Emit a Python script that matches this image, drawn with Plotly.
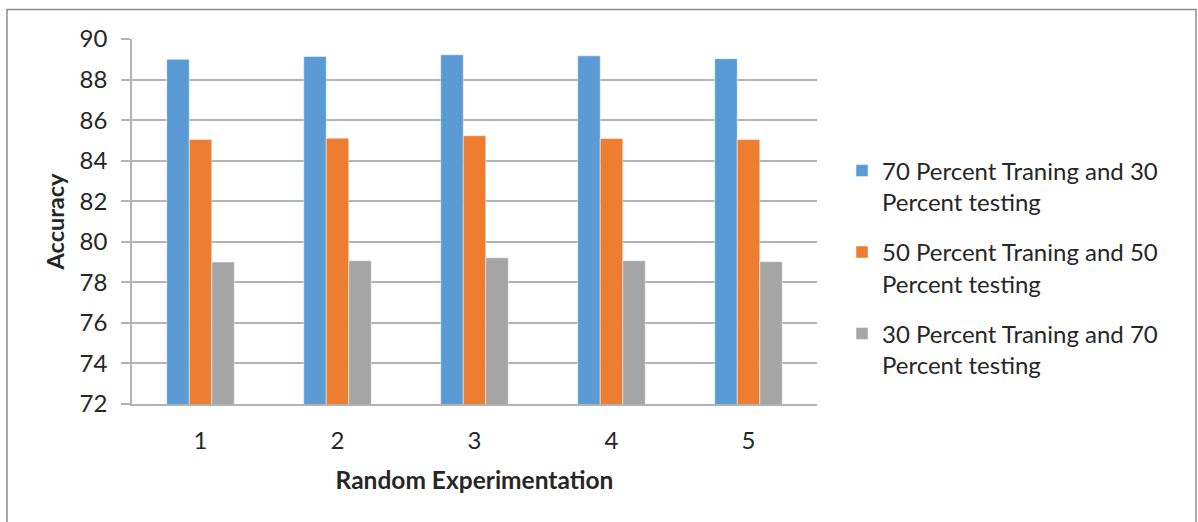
import plotly.graph_objects as go

# Accuracy per random experimentation run, for three train/test splits
runs = ["1", "2", "3", "4", "5"]
split_names = [
    "70 Percent Traning and 30<br>Percent testing",
    "50 Percent Traning and 50<br>Percent testing",
    "30 Percent Traning and 70<br>Percent testing",
]
acc_70_30 = [89.0, 89.14, 89.22, 89.17, 89.03]
acc_50_50 = [85.05, 85.11, 85.23, 85.09, 85.04]
acc_30_70 = [79.0, 79.07, 79.21, 79.07, 79.02]
y_ticks = [72, 74, 76, 78, 80, 82, 84, 86, 88, 90]

colors = ["#5B9BD5", "#ED7D31", "#A5A5A5"]
FONT = "Lato"
TEXT = "#262626"

W, H = 1198, 522
L, R, T, B = 132, 381, 39, 118
pw, ph = W - L - R, H - T - B

fig = go.Figure()
for i, (name, vals, c) in enumerate(zip(split_names, [acc_70_30, acc_50_50, acc_30_70], colors)):
    fig.add_trace(go.Bar(
        x=runs, y=vals, name=name, legendgroup=f"split{i}",
        marker=dict(color=c, line=dict(color="rgba(255,255,255,0.6)", width=0.8)),
    ))

# outer chart frame (bottom edge runs past the page)
def px_x(p):
    return (p - L) / pw

def px_y(p):
    return (H - B - p) / ph

fig.add_shape(type="rect", xref="paper", yref="paper",
              x0=px_x(7), x1=px_x(1196), y0=px_y(540), y1=px_y(9.5),
              line=dict(color="#8C8C8C", width=1.5), fillcolor="rgba(0,0,0,0)",
              layer="below")

fig.update_layout(
    width=W, height=H,
    margin=dict(l=L, r=R, t=T, b=B),
    paper_bgcolor="white", plot_bgcolor="white",
    barmode="group", bargap=0.507, bargroupgap=0,
    font=dict(family=FONT, color=TEXT, size=20),
    legend=dict(
        x=px_x(842), y=px_y(268), xanchor="left", yanchor="middle",
        font=dict(family=FONT, size=24, color=TEXT),
        traceorder="grouped", tracegroupgap=16, itemwidth=30, valign="top",
        bgcolor="rgba(0,0,0,0)",
    ),
    showlegend=True,
)
fig.update_yaxes(
    range=[72, 90], tickvals=y_ticks,
    showgrid=True, gridcolor="#B3B3B3", gridwidth=1.5,
    showline=True, linecolor="#B3B3B3", linewidth=1.5,
    ticks="outside", ticklen=9, tickcolor="#B3B3B3", tickwidth=1.5,
    ticklabelstandoff=9,
    tickfont=dict(family=FONT, size=24, color=TEXT),
    zeroline=False,
    title=dict(text="<b>Accuracy</b>", font=dict(family=FONT, size=23.5, color=TEXT), standoff=8),
)
fig.update_xaxes(
    showline=True, linecolor="#B3B3B3", linewidth=1.5,
    ticks="", tickfont=dict(family=FONT, size=24, color=TEXT),
    ticklabelstandoff=14,
    title=dict(text="<b>Random Experimentation</b>", font=dict(family=FONT, size=24.5, color=TEXT), standoff=19),
)

fig.write_html("out.html")
